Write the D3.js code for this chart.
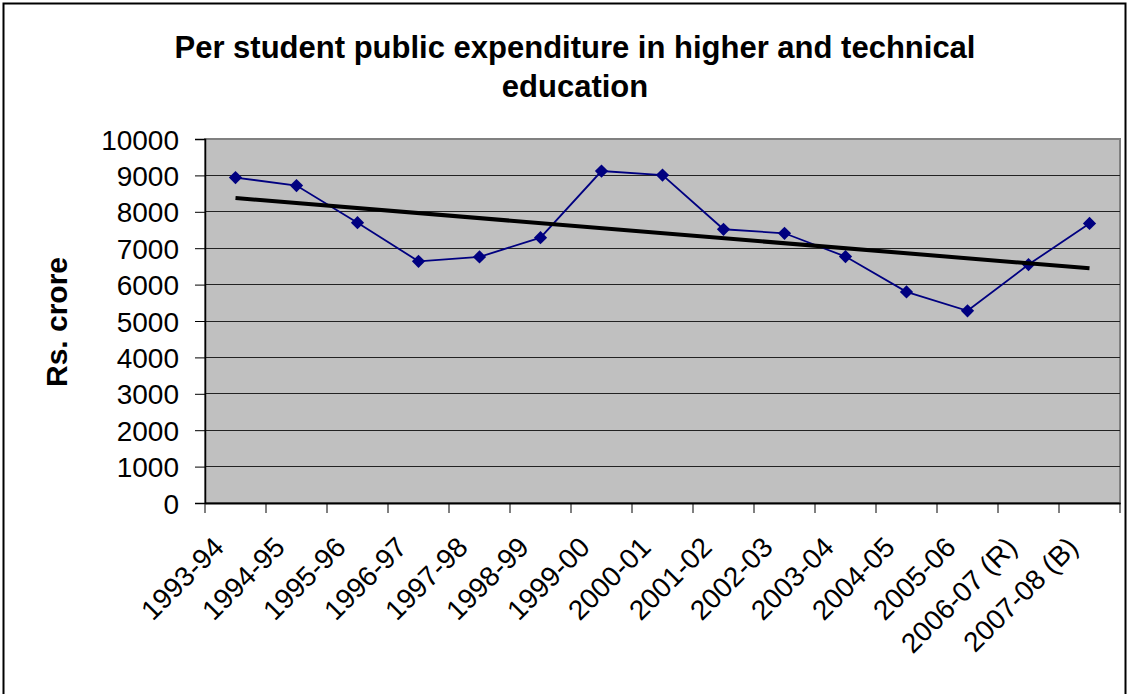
<!DOCTYPE html>
<html><head><meta charset="utf-8">
<script src="https://cdn.jsdelivr.net/npm/d3@7"></script>
<style>body{margin:0;background:#fff}svg{display:block}text{font-family:"Liberation Sans",Arial,sans-serif;fill:#000}</style>
</head><body>
<svg id="c" width="1129" height="694"></svg>
<script>
const categories = ["1993-94","1994-95","1995-96","1996-97","1997-98","1998-99","1999-00","2000-01","2001-02","2002-03","2003-04","2004-05","2005-06","2006-07 (R)","2007-08 (B)"];
const expenditure = [8940,8720,7700,6640,6760,7290,9120,9010,7520,7410,6770,5800,5280,6550,7680];
const yTicks = [0,1000,2000,3000,4000,5000,6000,7000,8000,9000,10000];
const titleLines = ["Per student public expenditure in higher and technical","education"];
const yTitle = "Rs. crore";

const svg = d3.select("#c");
svg.append("rect").attr("x",3.5).attr("y",3.5).attr("width",1122).attr("height",720)
  .attr("fill","#fff").attr("stroke","#000").attr("stroke-width",2);

const m = {l:205, r:1120, t:139, b:503};
const x = d3.scaleBand().domain(categories).range([m.l, m.r]).padding(0);
const y = d3.scaleLinear().domain([0,10000]).range([m.b, m.t]);

svg.append("rect").attr("x",m.l).attr("y",m.t).attr("width",m.r-m.l).attr("height",m.b-m.t)
  .attr("fill","#C0C0C0").attr("stroke","#808080").attr("stroke-width",2);

svg.append("g").selectAll("line").data(yTicks.filter(d=>d>0 && d<10000)).join("line")
  .attr("x1",m.l).attr("x2",m.r).attr("y1",d=>y(d)).attr("y2",d=>y(d))
  .attr("stroke","#222").attr("stroke-width",1).attr("shape-rendering","crispEdges");

// y axis
const ya = svg.append("g").attr("transform",`translate(${m.l},0)`)
  .call(d3.axisLeft(y).tickValues(yTicks).tickSize(10).tickPadding(16).tickFormat(d3.format("d")));
ya.select(".domain").attr("stroke","#000").attr("stroke-width",1.5);
ya.selectAll(".tick line").attr("stroke","#000");
ya.selectAll(".tick text").attr("font-size",28).attr("dy","0.36em").style("font-family","Liberation Sans, Arial, sans-serif");

// x axis
const xa = svg.append("g").attr("transform",`translate(0,${m.b})`)
  .call(d3.axisBottom(x).tickSize(0).tickFormat(""));
xa.select(".domain").attr("stroke","#000").attr("stroke-width",2);
const bounds = categories.map(c=>x(c)).concat([m.r]);
svg.append("g").selectAll("line").data(bounds).join("line")
  .attr("x1",d=>d).attr("x2",d=>d).attr("y1",m.b).attr("y2",m.b+10).attr("stroke","#000");
svg.append("g").selectAll("text").data(categories).join("text")
  .attr("transform",d=>`translate(${x(d)+x.bandwidth()/2-10},${m.b+46}) rotate(-45)`)
  .attr("text-anchor","end").attr("font-size",28).text(d=>d);

// trendline (least squares)
const n = expenditure.length;
const xs = d3.range(n);
const mx = d3.mean(xs), my = d3.mean(expenditure);
const slope = d3.sum(xs,(i)=>(i-mx)*(expenditure[i]-my))/d3.sum(xs,i=>(i-mx)*(i-mx));
const icpt = my - slope*mx;
const cx = i => x(categories[i]) + x.bandwidth()/2;

const line = d3.line().x((d,i)=>cx(i)).y(d=>y(d));
svg.append("path").datum(expenditure).attr("d",line).attr("fill","none")
  .attr("stroke","#000080").attr("stroke-width",1.8);
svg.append("g").selectAll("path").data(expenditure).join("path")
  .attr("d",d3.symbol(d3.symbolSquare, 88))
  .attr("transform",(d,i)=>`translate(${cx(i)},${y(d)}) rotate(45)`)
  .attr("fill","#000080");
svg.append("line").attr("x1",cx(0)).attr("x2",cx(n-1))
  .attr("y1",y(icpt)).attr("y2",y(icpt+slope*(n-1)))
  .attr("stroke","#000").attr("stroke-width",4);

// titles
svg.append("g").selectAll("text").data(titleLines).join("text")
  .attr("x",575).attr("y",(d,i)=>58+i*39).attr("text-anchor","middle")
  .attr("font-size",31).attr("font-weight","bold").text(d=>d);
svg.append("text").attr("transform","translate(67,322) rotate(-90)").attr("text-anchor","middle")
  .attr("font-size",30).attr("font-weight","bold").text(yTitle);
</script>
</body></html>
